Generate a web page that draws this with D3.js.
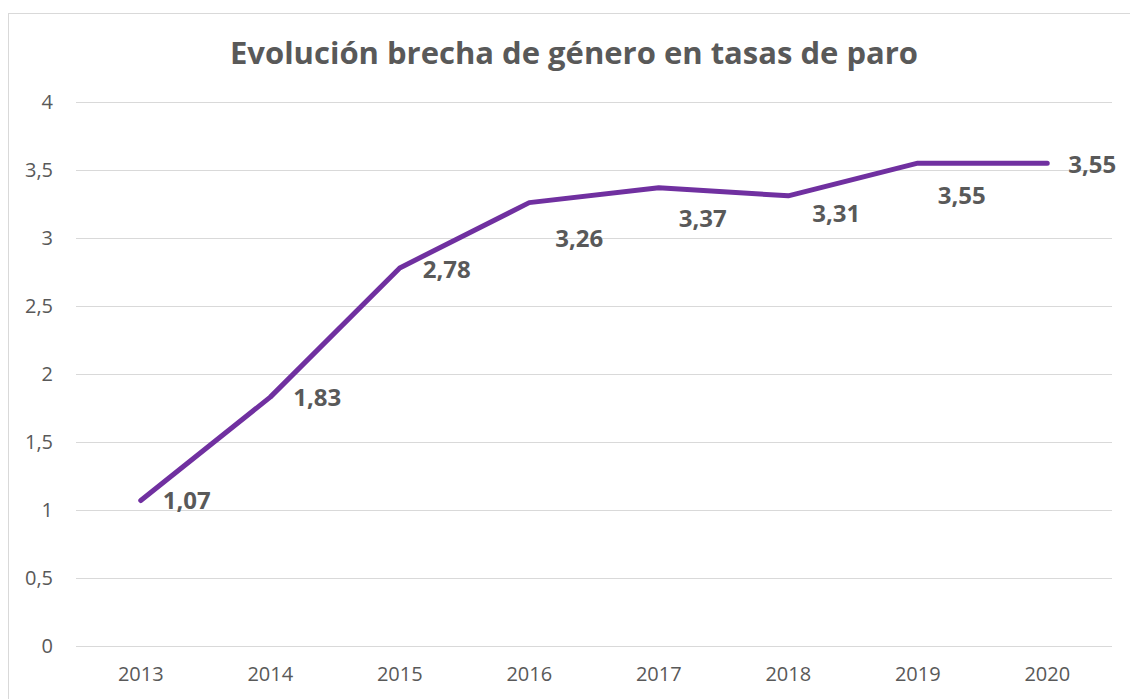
<!DOCTYPE html>
<html>
<head>
<meta charset="utf-8">
<script src="https://cdn.jsdelivr.net/npm/d3@7"></script>
<style>
  body { margin: 0; background: #fff; }
  text { font-family: "Open Sans", sans-serif; }
</style>
</head>
<body>
<div id="chart"></div>
<script>
// data
const years = ["2013", "2014", "2015", "2016", "2017", "2018", "2019", "2020"];
const gap = [1.07, 1.83, 2.78, 3.26, 3.37, 3.31, 3.55, 3.55];
const yTicks = [0, 0.5, 1, 1.5, 2, 2.5, 3, 3.5, 4];
const chartTitle = "Evolución brecha de género en tasas de paro";

// label offsets (px) from each point, as placed in the original
const labelDx = [22, 23, 23, 26, 20, 24, 20, 21];
const labelDy = [8.5, 9, 10, 44, 39, 26, 41, 10];

const W = 1130, H = 699;
const margin = {top: 102, right: 18, bottom: 53, left: 76};
const width = W - margin.left - margin.right;
const height = H - margin.top - margin.bottom;

const svg = d3.select("#chart").append("svg")
    .attr("width", W)
    .attr("height", H);

// chart border
svg.append("rect")
    .attr("x", 8.5).attr("y", 13.5)
    .attr("width", W).attr("height", H)
    .attr("fill", "none")
    .attr("stroke", "#d9d9d9");

// title
svg.append("text")
    .attr("x", 574).attr("y", 64)
    .attr("text-anchor", "middle")
    .attr("font-size", 31)
    .attr("font-weight", "bold")
    .attr("fill", "#595959")
    .text(chartTitle);

const g = svg.append("g")
    .attr("transform", "translate(" + margin.left + "," + margin.top + ")");

// scales
const x = d3.scaleBand().domain(years).range([0, width]);
const y = d3.scaleLinear().domain([0, 4]).range([height, 0]);
const fmt = v => String(v).replace(".", ",");

// gridlines
g.selectAll(".grid")
    .data(yTicks)
    .enter().append("line")
    .attr("class", "grid")
    .attr("x1", 0).attr("x2", width)
    .attr("y1", d => Math.round(y(d)) + 0.5)
    .attr("y2", d => Math.round(y(d)) + 0.5)
    .attr("stroke", "#d9d9d9")
    .attr("stroke-width", 1);

// y axis
const yAxis = d3.axisLeft(y).tickValues(yTicks).tickFormat(fmt).tickSize(0).tickPadding(23);
g.append("g").call(yAxis)
    .call(a => a.select(".domain").remove())
    .selectAll("text")
    .attr("font-size", 20)
    .attr("fill", "#595959")
    .style("font-family", "'Open Sans', sans-serif");

// x axis
const xAxis = d3.axisBottom(x).tickSize(0).tickPadding(21);
g.append("g")
    .attr("transform", "translate(0," + height + ")")
    .call(xAxis)
    .call(a => a.select(".domain").remove())
    .selectAll("text")
    .attr("font-size", 20)
    .attr("fill", "#595959")
    .style("font-family", "'Open Sans', sans-serif");

// line
const line = d3.line()
    .x((d, i) => x(years[i]) + x.bandwidth() / 2)
    .y(d => y(d));

g.append("path")
    .datum(gap)
    .attr("d", line)
    .attr("fill", "none")
    .attr("stroke", "#7030a0")
    .attr("stroke-width", 5)
    .attr("stroke-linecap", "round")
    .attr("stroke-linejoin", "round");

// data labels
g.selectAll(".label")
    .data(gap)
    .enter().append("text")
    .attr("class", "label")
    .attr("x", (d, i) => x(years[i]) + x.bandwidth() / 2 + labelDx[i])
    .attr("y", (d, i) => y(d) + labelDy[i])
    .attr("font-size", 24)
    .attr("font-weight", "bold")
    .attr("fill", "#595959")
    .text(d => fmt(d));
</script>
</body>
</html>
